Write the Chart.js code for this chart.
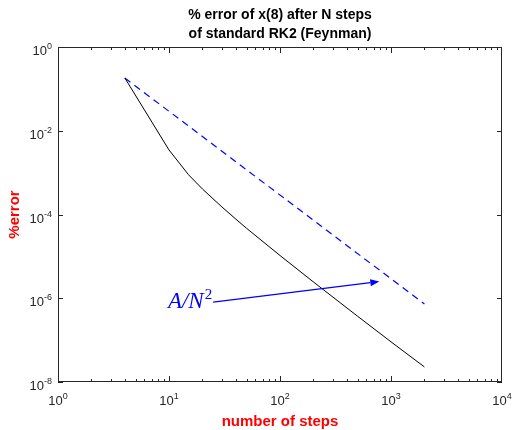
<!DOCTYPE html>
<html>
<head>
<meta charset="utf-8">
<script src="https://cdn.jsdelivr.net/npm/chart.js@4.4.1/dist/chart.umd.min.js"></script>
<style>
  html, body { margin: 0; padding: 0; background: #fff; }
  #wrap { width: 512px; height: 430px; }
</style>
</head>
<body>
<div id="wrap"><canvas id="errChart" width="512" height="430"></canvas></div>
<script>
// values
const nSteps = [4, 10, 15, 20, 30, 40, 50, 100, 200, 500, 1000, 2000];
const errRK2 = [0.182, 3.47e-3, 8.9e-4, 4.07e-4, 1.51e-4, 7.76e-5, 4.68e-5, 1.05e-5, 2.45e-6, 3.72e-7, 9.1e-8, 2.29e-8];
const refN = [4, 2000];
const refErr = [0.182, 7.3e-7];
const xTickVals = [1, 10, 100, 1000, 10000];
const yTickVals = [1e-8, 1e-6, 1e-4, 1e-2, 1];
const arrowN = [25, 785];
const arrowErr = [8.1e-7, 2.5e-6];
const titleLines = ['% error of x(8) after N steps', 'of standard RK2 (Feynman)'];

const axisColor = '#262626';
const sans = '"Liberation Sans", Arial, sans-serif';

const toPts = (xs, ys) => xs.map((v, i) => ({ x: v, y: ys[i] }));

function drawPow(ctx, exp, x, y, align) {
    // "10" with a raised exponent
    const base = '10';
    const sup = String(exp);
    ctx.font = '13px ' + sans;
    const wb = ctx.measureText(base).width;
    ctx.font = '9px ' + sans;
    const ws = ctx.measureText(sup).width;
    let left = align === 'right' ? x - wb - ws : x - (wb + ws) / 2;
    ctx.textAlign = 'left';
    ctx.textBaseline = 'alphabetic';
    ctx.font = '13px ' + sans;
    ctx.fillText(base, left, y);
    ctx.font = '9px ' + sans;
    ctx.fillText(sup, left + wb, y - 6);
}

const axesFrame = {
    id: 'axesFrame',
    afterDatasetsDraw(chart) {
        const { ctx, chartArea: a, scales: { x, y } } = chart;
        ctx.save();

        // title, centred over the axes box
        ctx.fillStyle = '#000';
        ctx.font = 'bold 14px ' + sans;
        ctx.textAlign = 'center';
        ctx.textBaseline = 'middle';
        titleLines.forEach((t, i) => ctx.fillText(t, (a.left + a.right) / 2, 15 + i * 19));

        ctx.strokeStyle = axisColor;
        ctx.fillStyle = axisColor;
        ctx.lineWidth = 1;
        ctx.strokeRect(a.left + 0.5, a.top + 0.5, a.right - a.left - 1, a.bottom - a.top - 1);

        ctx.beginPath();
        for (let d = 0; d < 4; d++) {
            for (let m = 1; m <= 9; m++) {
                const v = m * Math.pow(10, d);
                const px = Math.round(x.getPixelForValue(v)) + 0.5;
                const len = m === 1 ? 6 : 3;
                ctx.moveTo(px, a.bottom);
                ctx.lineTo(px, a.bottom - len);
                ctx.moveTo(px, a.top);
                ctx.lineTo(px, a.top + len);
            }
        }
        yTickVals.forEach(v => {
            const py = Math.round(y.getPixelForValue(v)) + 0.5;
            ctx.moveTo(a.left, py);
            ctx.lineTo(a.left + 5, py);
            ctx.moveTo(a.right, py);
            ctx.lineTo(a.right - 5, py);
        });
        ctx.stroke();

        xTickVals.forEach(v => {
            drawPow(ctx, Math.round(Math.log10(v)), x.getPixelForValue(v), a.bottom + 23, 'center');
        });
        yTickVals.forEach(v => {
            drawPow(ctx, Math.round(Math.log10(v)), a.left - 6, y.getPixelForValue(v) + 8, 'right');
        });

        // A/N^2 annotation with arrow
        const x0 = x.getPixelForValue(arrowN[0]), y0 = y.getPixelForValue(arrowErr[0]);
        const x1 = x.getPixelForValue(arrowN[1]), y1 = y.getPixelForValue(arrowErr[1]);
        ctx.strokeStyle = '#0000ff';
        ctx.fillStyle = '#0000ff';
        ctx.lineWidth = 1.2;
        const ang = Math.atan2(y1 - y0, x1 - x0);
        const hl = 9, hw = 3.5;
        ctx.beginPath();
        ctx.moveTo(x0, y0);
        ctx.lineTo(x1 - hl * Math.cos(ang), y1 - hl * Math.sin(ang));
        ctx.stroke();
        ctx.beginPath();
        ctx.moveTo(x1, y1);
        ctx.lineTo(x1 - hl * Math.cos(ang) - hw * Math.sin(ang), y1 - hl * Math.sin(ang) + hw * Math.cos(ang));
        ctx.lineTo(x1 - hl * Math.cos(ang) + hw * Math.sin(ang), y1 - hl * Math.sin(ang) - hw * Math.cos(ang));
        ctx.closePath();
        ctx.fill();

        ctx.textBaseline = 'alphabetic';
        ctx.font = '15px "Liberation Serif", "Times New Roman", serif';
        const w2 = ctx.measureText('2').width;
        ctx.textAlign = 'right';
        ctx.fillText('2', x0 - 1, y0 - 3);
        ctx.font = 'italic 23px "Liberation Serif", "Times New Roman", serif';
        ctx.fillText('A/N', x0 - 2 - w2, y0 + 6);
        ctx.restore();
    }
};

new Chart(document.getElementById('errChart'), {
    type: 'line',
    data: {
        datasets: [
            {
                data: toPts(nSteps, errRK2),
                borderColor: '#000000',
                borderWidth: 1,
                pointRadius: 0,
                fill: false
            },
            {
                data: toPts(refN, refErr),
                borderColor: '#0000ff',
                borderWidth: 1.2,
                borderDash: [7, 5],
                pointRadius: 0,
                fill: false
            }
        ]
    },
    plugins: [axesFrame],
    options: {
        responsive: false,
        animation: false,
        layout: { padding: { left: 0, right: 10, top: 47, bottom: 0 } },
        plugins: {
            legend: { display: false },
            tooltip: { enabled: false },
            title: { display: false }
        },
        scales: {
            x: {
                type: 'logarithmic',
                min: 1,
                max: 10000,
                grid: { display: false },
                border: { display: false },
                ticks: { display: false },
                title: {
                    display: true,
                    text: 'number of steps',
                    color: '#ff0000',
                    font: { family: sans, size: 15, weight: 'bold', lineHeight: 1.1 },
                    padding: { top: 0, bottom: 0 }
                },
                afterFit: s => { s.height = 48; }
            },
            y: {
                type: 'logarithmic',
                min: 1e-8,
                max: 1,
                grid: { display: false },
                border: { display: false },
                ticks: { display: false },
                title: {
                    display: true,
                    text: '%error',
                    color: '#ff0000',
                    font: { family: sans, size: 15, weight: 'bold', lineHeight: 1.2 },
                    padding: { top: 6, bottom: 0 }
                },
                afterFit: s => { s.width = 58; }
            }
        }
    }
});
</script>
</body>
</html>
